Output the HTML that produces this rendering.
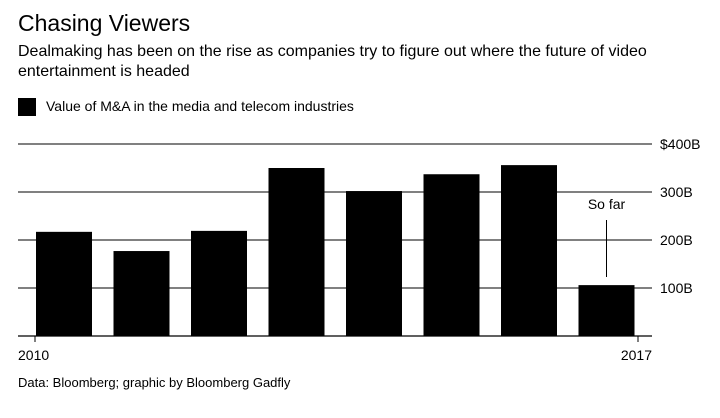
<!DOCTYPE html>
<html><head><meta charset="utf-8"><style>
body{margin:0;background:#fff;font-family:"Liberation Sans",sans-serif;color:#000}
#wrap{position:relative;width:720px;height:418px;overflow:hidden}
.t{position:absolute;white-space:nowrap}
</style></head><body><div id="wrap">
<div class="t" style="left:18px;top:10px;font-size:23px">Chasing Viewers</div>
<div class="t" style="left:18px;top:42px;font-size:16px;line-height:20px;white-space:normal;width:690px">Dealmaking has been on the rise as companies try to figure out where the future of video entertainment is headed</div>
<div style="position:absolute;left:18px;top:98px;width:18px;height:18px;background:#000"></div>
<div class="t" style="left:46px;top:98px;font-size:14px">Value of M&amp;A in the media and telecom industries</div>
<svg id="svg" width="720" height="418" style="position:absolute;left:0;top:0"></svg>
<div class="t" style="left:18px;top:375px;font-size:13px">Data: Bloomberg; graphic by Bloomberg Gadfly</div>
</div>
<script>
const years=["2010","2011","2012","2013","2014","2015","2016","2017"];
const values=[217,177,219,350,302,337,356,106];
const yTicks=[100,200,300,400];
const yTickLabels=["100B","200B","300B","$400B"];
const xLabels=["2010","2017"];
const NS="http://www.w3.org/2000/svg",svg=document.getElementById('svg');
const y0=336,pxPer=0.48,x0=36,step=77.5,bw=56;
const y=v=>y0-v*pxPer, x=i=>x0+i*step;
function mk(t,a){const e=document.createElementNS(NS,t);for(const k in a)e.setAttribute(k,a[k]);svg.appendChild(e);return e;}
yTicks.forEach((v,i)=>{
 const l=mk('line',{x1:18,x2:652,y1:y(v),y2:y(v),stroke:'#000','stroke-width':1});
 
 
 const t=mk('text',{x:660,y:y(v)+5,'font-size':14,'font-family':'Liberation Sans, sans-serif'});
 t.textContent=yTickLabels[i];
 
 
});
values.forEach((v,i)=>{
 const r=mk('rect',{x:x(i),y:y(v),width:bw,height:y0-y(v),fill:'#000'});
 
 
});
const ax=mk('line',{x1:18,x2:652,y1:y0,y2:y0,stroke:'#000','stroke-width':1.2});


[[35,xLabels[0],'start',18],[638,xLabels[1],'end',652]].forEach(([tx,lab,anc,lx])=>{
 const tk=mk('line',{x1:tx,x2:tx,y1:y0,y2:y0+6,stroke:'#000'});
 
 
 const t=mk('text',{x:lx,y:360,'font-size':14,'text-anchor':anc,'font-family':'Liberation Sans, sans-serif'});
 t.textContent=lab;
 
 
});
const cx=x(7)+bw/2;
const an=mk('line',{x1:cx,x2:cx,y1:220,y2:277,stroke:'#000'});


const at=mk('text',{x:cx,y:209,'font-size':14,'text-anchor':'middle','font-family':'Liberation Sans, sans-serif'});
at.textContent='So far';


</script></body></html>
